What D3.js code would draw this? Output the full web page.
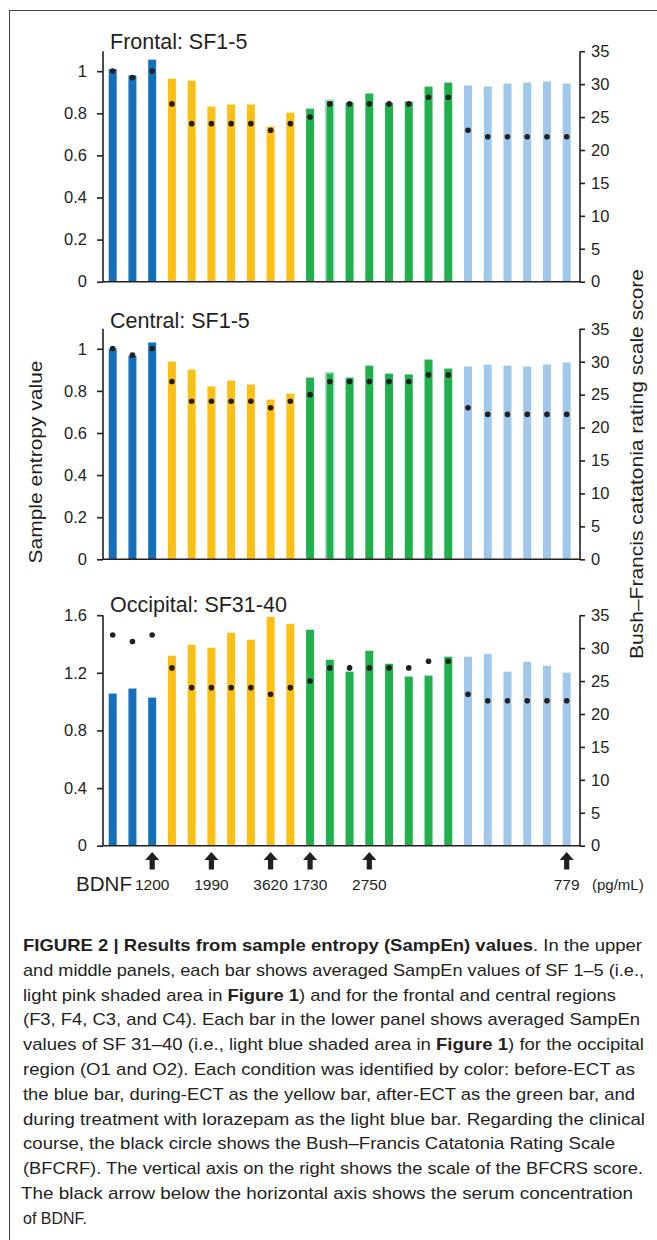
<!DOCTYPE html>
<html>
<head>
<meta charset="utf-8">
<script src="https://cdn.jsdelivr.net/npm/d3@7"></script>
<style>
  html, body { margin: 0; padding: 0; background: #fff; }
  svg { display: block; font-family: "Liberation Sans", Arial, Helvetica, sans-serif; }
</style>
</head>
<body>
<svg id="chart" width="657" height="1240"></svg>
<script>
// ---------------- DATA ----------------
const sessions = d3.range(24);
const conditions = ["before","before","before",
  "during","during","during","during","during","during","during",
  "after","after","after","after","after","after","after","after",
  "lorazepam","lorazepam","lorazepam","lorazepam","lorazepam","lorazepam"];
const bfcrs = [32,31,32,27,24,24,24,24,23,24,25,27,27,27,27,27,28,28,23,22,22,22,22,22];
const frontal = [1.01,0.98,1.055,0.965,0.955,0.832,0.842,0.842,0.737,0.803,0.822,0.862,
                 0.851,0.894,0.85,0.856,0.927,0.946,0.932,0.927,0.941,0.946,0.951,0.941];
const central = [1.001,0.968,1.03,0.939,0.901,0.821,0.849,0.83,0.759,0.787,0.863,0.886,
                 0.863,0.92,0.882,0.878,0.949,0.906,0.916,0.925,0.92,0.916,0.925,0.935];
const occipital = [1.056,1.091,1.028,1.319,1.395,1.374,1.478,1.43,1.589,1.54,1.499,1.291,
                   1.208,1.353,1.263,1.174,1.181,1.312,1.312,1.332,1.208,1.277,1.249,1.201];
const panelTitles = ["Frontal: SF1-5","Central: SF1-5","Occipital: SF31-40"];
const leftTicksSF = [0,0.2,0.4,0.6,0.8,1];
const leftTicksOcc = [0,0.4,0.8,1.2,1.6];
const rightTicks = [0,5,10,15,20,25,30,35];
const bdnfSessions = [2,5,8,10,13,23];
const bdnfValues = ["1200","1990","3620","1730","2750","779"];
const leftAxisTitle = "Sample entropy value";
const rightAxisTitle = "Bush\u2013Francis catatonia rating scale score";

const captionLines = [
  [["FIGURE 2 | Results from sample entropy (SampEn) values",1],[". In the upper",0]],
  [["and middle panels, each bar shows averaged SampEn values of SF 1\u20135 (i.e.,",0]],
  [["light pink shaded area in ",0],["Figure 1",1],[") and for the frontal and central regions",0]],
  [["(F3, F4, C3, and C4). Each bar in the lower panel shows averaged SampEn",0]],
  [["values of SF 31\u201340 (i.e., light blue shaded area in ",0],["Figure 1",1],[") for the occipital",0]],
  [["region (O1 and O2). Each condition was identified by color: before-ECT as",0]],
  [["the blue bar, during-ECT as the yellow bar, after-ECT as the green bar, and",0]],
  [["during treatment with lorazepam as the light blue bar. Regarding the clinical",0]],
  [["course, the black circle shows the Bush\u2013Francis Catatonia Rating Scale",0]],
  [["(BFCRF). The vertical axis on the right shows the scale of the BFCRS score.",0]],
  [["The black arrow below the horizontal axis shows the serum concentration",0]],
  [["of BDNF.",0]]
];
const captionWidths = [619,621,593,617,621,612,612,622,592,620,612,64];

// ---------------- STYLE / LAYOUT ----------------
const colors = {before:"#1470ba", during:"#fcbf13", after:"#21b14c", lorazepam:"#a0c8ea"};
const ink = "#231f20";
const xL = 103, xR = 580;
const panelH = 230.5;
const panels = [
  {base:281.7, data:frontal, ymax:1.095, ticks:leftTicksSF, title:panelTitles[0], titleY:48.5},
  {base:559.3, data:central, ymax:1.095, ticks:leftTicksSF, title:panelTitles[1], titleY:328},
  {base:845.7, data:occipital, ymax:1.6, ticks:leftTicksOcc, title:panelTitles[2], titleY:611.5}
];

const svg = d3.select("#chart");

// frame
svg.append("line").attr("x1",9).attr("x2",657).attr("y1",10.5).attr("y2",10.5)
  .attr("stroke","#444").attr("stroke-width",1);
svg.append("line").attr("x1",9.5).attr("x2",9.5).attr("y1",10).attr("y2",1240)
  .attr("stroke","#444").attr("stroke-width",1);

const x = d3.scalePoint().domain(sessions).range([112.7, 566.7]);
const barW = 8;

panels.forEach((p, pi) => {
  const y = d3.scaleLinear().domain([0, p.ymax]).range([p.base, p.base - panelH]);
  const y2 = d3.scaleLinear().domain([0, 35]).range([p.base, p.base - panelH]);
  const g = svg.append("g");

  // bars
  g.selectAll("rect.bar").data(sessions).join("rect")
    .attr("class","bar")
    .attr("x", i => x(i) - barW/2)
    .attr("width", barW)
    .attr("y", i => y(p.data[i]))
    .attr("height", i => y(0) - y(p.data[i]))
    .attr("fill", i => colors[conditions[i]])
    .attr("stroke", i => (pi < 2 && i === 11) ? "#a8dccb" : "none")
    .attr("stroke-width", 1.6);

  // left axis
  const la = d3.axisLeft(y).tickValues(p.ticks).tickSize(6).tickPadding(10)
    .tickFormat(d => d === 0 ? "0" : (d === 1 ? "1" : d3.format(".1f")(d)));
  const lg = g.append("g").attr("transform", `translate(${xL},0)`).call(la);
  lg.select(".domain").remove();
  lg.selectAll(".tick line").attr("stroke", ink).attr("stroke-width", 1.6);
  lg.selectAll(".tick text").attr("fill", ink).style("font-size","16.5px")
    .attr("font-family","Liberation Sans, Arial, sans-serif");
  g.append("line").attr("x1", xL).attr("x2", xL).attr("y1", p.base).attr("y2", p.base - panelH)
    .attr("stroke", ink).attr("stroke-width", 1.6);

  // baseline
  g.append("line").attr("x1", xL).attr("x2", xR).attr("y1", p.base).attr("y2", p.base)
    .attr("stroke", ink).attr("stroke-width", 1.6);

  // right axis
  const ra = d3.axisRight(y2).tickValues(rightTicks).tickSize(5).tickPadding(6);
  const rg = g.append("g").attr("transform", `translate(${xR},0)`).call(ra);
  rg.select(".domain").remove();
  rg.selectAll(".tick line").attr("stroke", ink).attr("stroke-width", 1.6);
  rg.selectAll(".tick text").attr("fill", ink).style("font-size","16.5px")
    .attr("font-family","Liberation Sans, Arial, sans-serif");
  g.append("line").attr("x1", xR).attr("x2", xR).attr("y1", p.base + 0.8).attr("y2", p.base - panelH)
    .attr("stroke", ink).attr("stroke-width", 1.6);

  // BFCRS dots
  g.selectAll("circle.dot").data(sessions).join("circle")
    .attr("class","dot")
    .attr("cx", i => x(i))
    .attr("cy", i => y2(bfcrs[i]))
    .attr("r", 2.8)
    .attr("fill", ink);

  // title
  g.append("text").attr("x", 110).attr("y", p.titleY).text(p.title)
    .attr("fill", ink).style("font-size","21.5px");
});

// axis titles
svg.append("text")
  .attr("transform","translate(42,462) rotate(-90)")
  .attr("text-anchor","middle").attr("fill", ink).style("font-size","19px")
  .attr("textLength", 203).attr("lengthAdjust","spacingAndGlyphs")
  .text(leftAxisTitle);
svg.append("text")
  .attr("transform","translate(643,464) rotate(-90)")
  .attr("text-anchor","middle").attr("fill", ink).style("font-size","19px")
  .attr("textLength", 390).attr("lengthAdjust","spacingAndGlyphs")
  .text(rightAxisTitle);

// BDNF arrows
const arrow = "M0,0 L7,8 L2.6,8 L2.6,17.5 L-2.6,17.5 L-2.6,8 L-7,8 Z";
svg.selectAll("path.arrow").data(bdnfSessions).join("path")
  .attr("class","arrow")
  .attr("d", arrow)
  .attr("transform", s => `translate(${x(s)},852)`)
  .attr("fill", ink);
svg.selectAll("text.bdnf").data(bdnfSessions).join("text")
  .attr("class","bdnf")
  .attr("x", s => x(s)).attr("y", 890)
  .attr("text-anchor","middle").attr("fill", ink).style("font-size","15.5px")
  .text((s, i) => bdnfValues[i]);
svg.append("text").attr("x", 76).attr("y", 891).attr("fill", ink)
  .style("font-size","20px").attr("textLength", 56).attr("lengthAdjust","spacingAndGlyphs")
  .text("BDNF");
svg.append("text").attr("x", 592).attr("y", 890).attr("fill", ink)
  .style("font-size","15px").text("(pg/mL)");

// caption
const cap = svg.append("g");
captionLines.forEach((segs, li) => {
  const t = cap.append("text")
    .attr("x", li === 10 ? 21 : 23)
    .attr("y", 951 + li * 24.8)
    .attr("fill", ink)
    .style("font-size","17px")
    .attr("textLength", captionWidths[li])
    .attr("lengthAdjust","spacingAndGlyphs");
  segs.forEach(([s, b]) => {
    t.append("tspan").attr("font-weight", b ? "bold" : "normal").text(s);
  });
});
</script>
</body>
</html>
